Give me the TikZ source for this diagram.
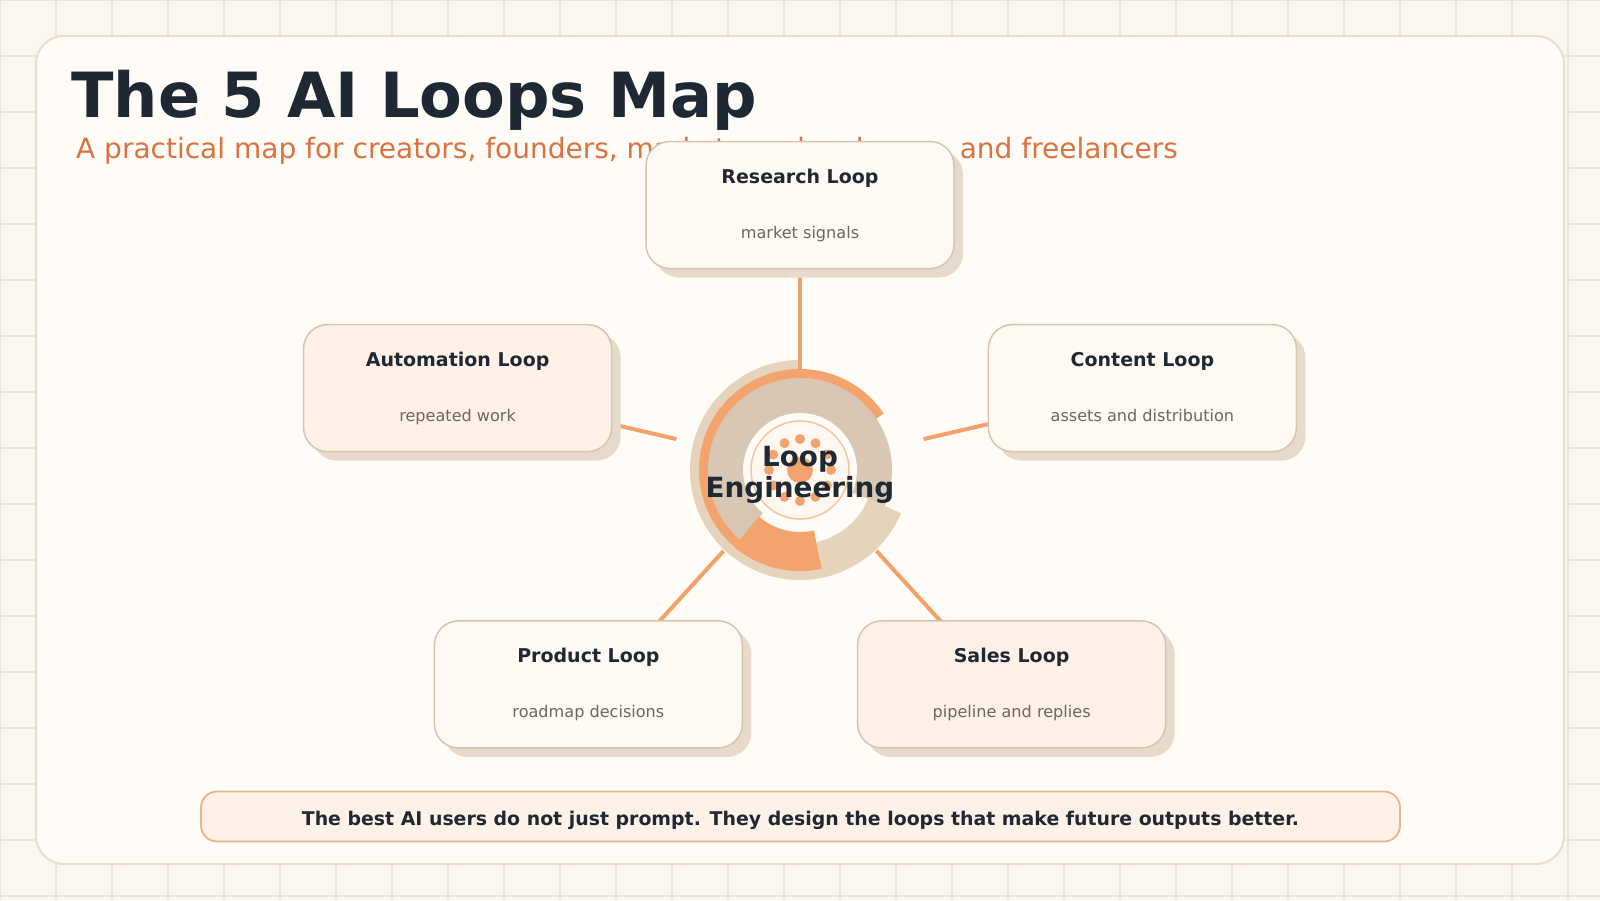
\documentclass[tikz,border=0pt]{standalone}
\usepackage{fontspec}
\setmainfont{DejaVu Sans}
\usetikzlibrary{shadows,calc}
\definecolor{bgc}{HTML}{FAF6F0}
\definecolor{gridc}{HTML}{EEE3D7}
\definecolor{cardc}{HTML}{FFFCF8}
\definecolor{cardline}{HTML}{EBDDCD}
\definecolor{ink}{HTML}{1F2933}
\definecolor{subc}{HTML}{D9733F}
\definecolor{boxline}{HTML}{D7C4AF}
\definecolor{shadowc}{HTML}{E8DACA}
\definecolor{boxa}{HTML}{FFF9F3}
\definecolor{boxb}{HTML}{FFF1E8}
\definecolor{linec}{HTML}{F2A16B}
\definecolor{beigec}{HTML}{E6D3BC}
\definecolor{tanc}{HTML}{D8C7B4}
\definecolor{orangec}{HTML}{F2A36E}
\definecolor{innerfill}{HTML}{FFF8F0}
\definecolor{innerline}{HTML}{F4C6A0}
\definecolor{mutedc}{HTML}{6E655E}
\definecolor{bannerline}{HTML}{E8B48A}
\pgfdeclarelayer{back}
\pgfdeclarelayer{mid}
\pgfsetlayers{back,mid,main}
\begin{document}
\begin{tikzpicture}[x=1pt,y=1pt,
  loopbox/.style={draw=boxline, line width=1.5pt, rounded corners=24pt,
    minimum width=308pt, minimum height=127pt, inner sep=0pt,
    drop shadow={shadow xshift=9pt, shadow yshift=-9pt, fill=shadowc, opacity=1}},
  boxtitle/.style={anchor=base, inner sep=0pt, text=ink, font=\fontsize{19}{22}\selectfont\bfseries},
  boxsub/.style={anchor=base, inner sep=0pt, text=mutedc, font=\fontsize{16.1}{19}\selectfont},
  conn/.style={draw=linec, line width=4pt},
  hubtext/.style={anchor=base, inner sep=0pt, text=ink, font=\fontsize{27.8}{31}\selectfont\bfseries},
]
\useasboundingbox (0,0) rectangle (1600,-900);
\begin{pgfonlayer}{back}
  \fill[bgc] (0,0) rectangle (1600,-900);
  \draw[gridc, line width=1.2pt] (0,0) grid[step=56] (1600,-900);
  \draw[cardline, fill=cardc, line width=2pt, rounded corners=28pt] (36,-36) rectangle (1564,-864);
  % hub
  \coordinate (hub) at (800,-470);
  \draw[beigec, line width=36pt] ($(hub)+(90:92)$) arc[start angle=90, end angle=337, radius=92];
  \draw[tanc, line width=35pt] ($(hub)+(-23:74.5)$) arc[start angle=-23, end angle=229, radius=74.5];
  \draw[orangec, line width=9pt] ($(hub)+(34:96.5)$) arc[start angle=34, end angle=282.5, radius=96.5];
  \draw[orangec, line width=39pt] ($(hub)+(229:81.5)$) arc[start angle=229, end angle=282.5, radius=81.5];
  \draw[innerline, fill=innerfill, line width=1.5pt] (hub) circle[radius=49];
  \foreach \a in {0,30,...,330} \fill[orangec] ($(hub)+(\a:31)$) circle[radius=5];
  \fill[orangec] (hub) circle[radius=13];
\end{pgfonlayer}

\node[hubtext] (hubA) at (800,-466) {Loop};
\node[hubtext] (hubB) at (800,-497) {Engineering};

% title
\node[anchor=base west, inner sep=0pt, text=ink, font=\fontsize{62.3}{70}\selectfont\bfseries] (title) at (71,-117) {The 5 AI Loops Map};
\node[anchor=base west, inner sep=0pt, text=subc, font=\fontsize{28}{32}\selectfont] (subtitle) at (76,-158) {A practical map for creators, founders, marketers, developers, and freelancers};

% hub connector ends
\coordinate (hR) at (800,-370);
\coordinate (hA) at (676.4,-439.1);
\coordinate (hC) at (923.6,-439.1);
\coordinate (hP) at (723.6,-550.9);
\coordinate (hS) at (876.4,-550.9);
% box-side connector ends
\coordinate (tR) at (800,-205);
\coordinate (tA) at (457.6,-388.1);
\coordinate (tC) at (1142.4,-388.1);
\coordinate (tP) at (601.7,-684.4);
\coordinate (tS) at (998.3,-684.4);

% boxes
\node[loopbox, fill=boxa] (research) at (800,-205) {};
\node[loopbox, fill=boxb] (automation) at (457.6,-388.1) {};
\node[loopbox, fill=boxa] (content) at (1142.4,-388.1) {};
\node[loopbox, fill=boxa] (product) at (588.4,-684.4) {};
\node[loopbox, fill=boxb] (sales) at (1011.6,-684.4) {};

\node[boxtitle] (researchT) at ([yshift=22pt]research.center) {Research Loop};
\node[boxsub] (researchS) at ([yshift=-33pt]research.center) {market signals};
\node[boxtitle] (automationT) at ([yshift=22pt]automation.center) {Automation Loop};
\node[boxsub] (automationS) at ([yshift=-33pt]automation.center) {repeated work};
\node[boxtitle] (contentT) at ([yshift=22pt]content.center) {Content Loop};
\node[boxsub] (contentS) at ([yshift=-33pt]content.center) {assets and distribution};
\node[boxtitle] (productT) at ([yshift=22pt]product.center) {Product Loop};
\node[boxsub] (productS) at ([yshift=-33pt]product.center) {roadmap decisions};
\node[boxtitle] (salesT) at ([yshift=22pt]sales.center) {Sales Loop};
\node[boxsub] (salesS) at ([yshift=-33pt]sales.center) {pipeline and replies};

\begin{pgfonlayer}{mid}
  \draw[conn] (tR) -- (hR);
  \draw[conn] (tA) -- (hA);
  \draw[conn] (tC) -- (hC);
  \draw[conn] (tP) -- (hP);
  \draw[conn] (tS) -- (hS);
\end{pgfonlayer}

% banner
\node[draw=bannerline, fill=boxb, line width=1.8pt, rounded corners=16pt, minimum width=1199pt, minimum height=50pt, inner sep=0pt] (banner) at (800.5,-816.5) {};
\node[anchor=base, inner sep=0pt, text=ink, font=\fontsize{18.9}{22}\selectfont\bfseries] (bannerT) at (800.5,-825) {The best AI users do not just prompt. They design the loops that make future outputs better.};
\end{tikzpicture}
\end{document}
